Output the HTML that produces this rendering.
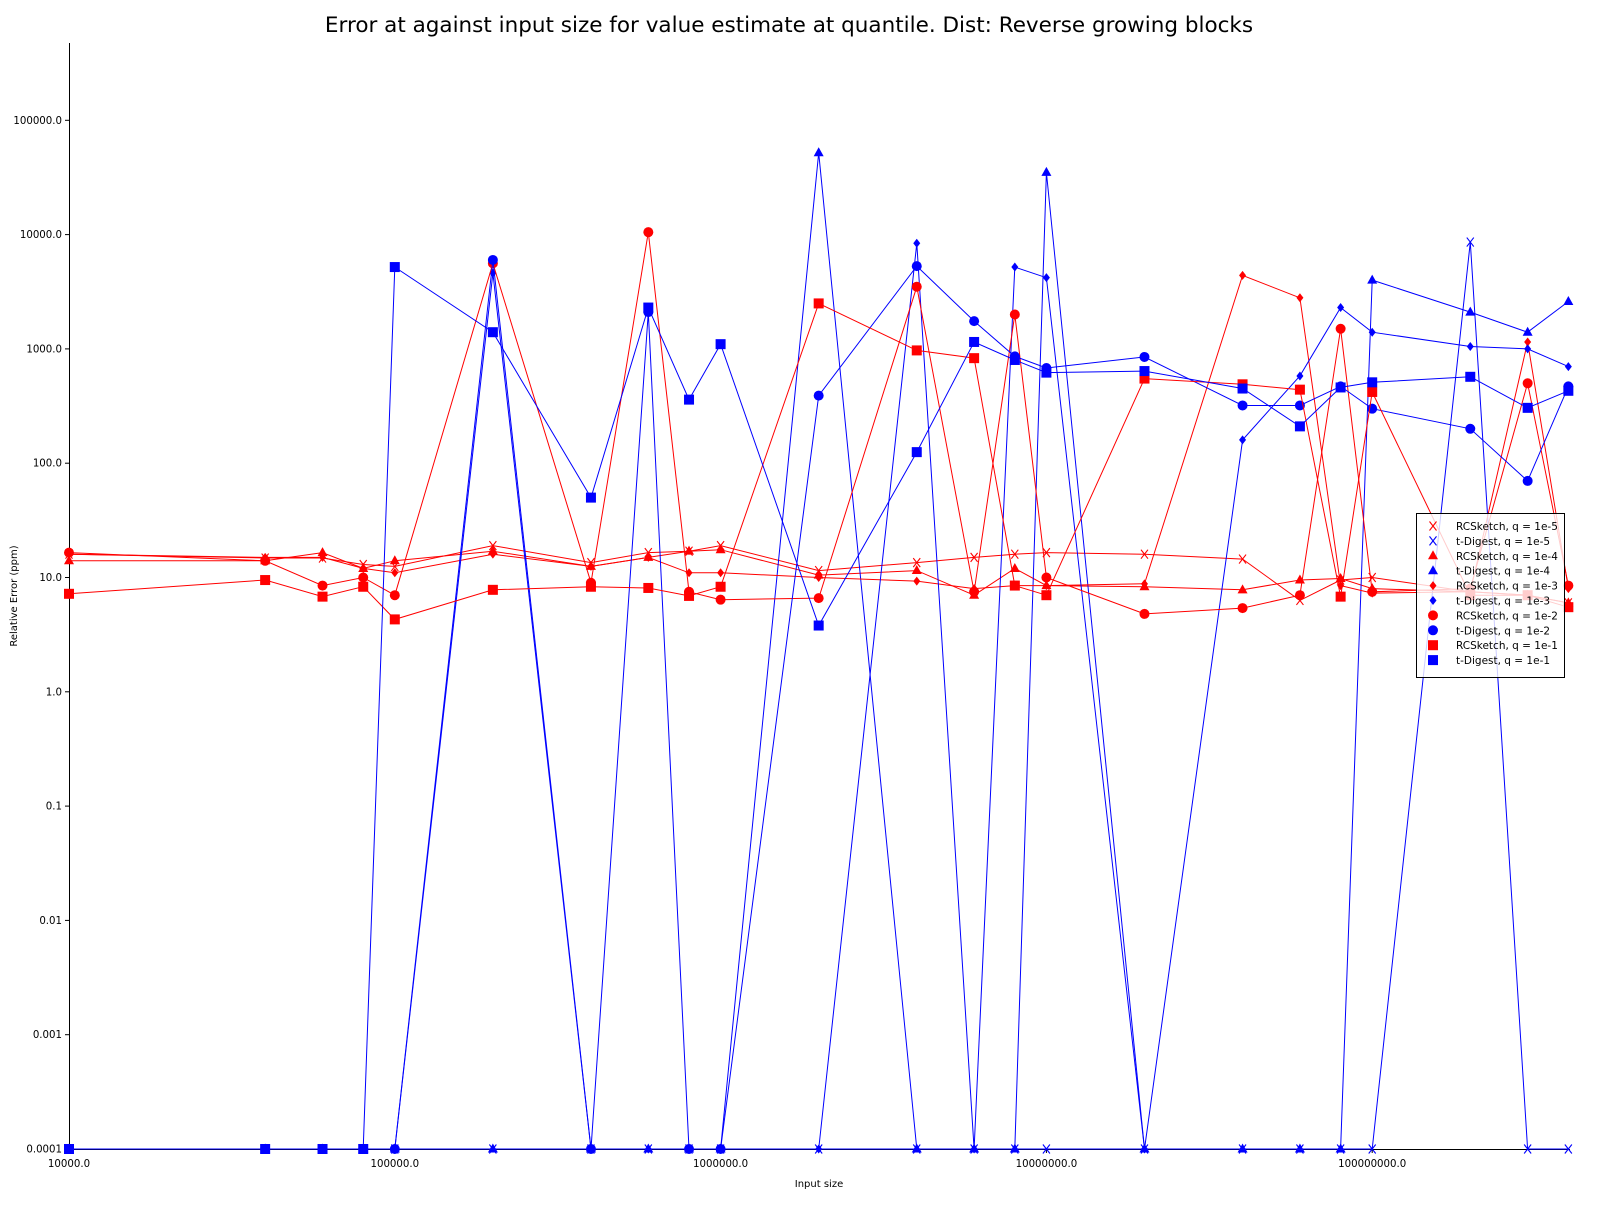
<!DOCTYPE html>
<html><head><meta charset="utf-8"><style>
body{margin:0;background:#fff;font-family:"Liberation Sans","DejaVu Sans",sans-serif}
svg text{font-family:"DejaVu Sans","Liberation Sans",sans-serif}
</style></head><body>
<svg id="chart" width="1600" height="1200" xmlns="http://www.w3.org/2000/svg">
<rect width="1600" height="1200" fill="#fff"/>
<text x="789" y="32" font-size="21.5" text-anchor="middle">Error at against input size for value estimate at quantile. Dist: Reverse growing blocks</text>
<text x="819" y="1187" font-size="10" text-anchor="middle">Input size</text>
<text x="17" y="596" font-size="10" text-anchor="middle" transform="rotate(-90 17 596)">Relative Error (ppm)</text>
<g id="axes"></g>
<g id="series"></g>
<g id="legend"></g>
</svg>
<script>
const xs=[1e4,4e4,6e4,8e4,1e5,2e5,4e5,6e5,8e5,1e6,2e6,4e6,6e6,8e6,1e7,2e7,4e7,6e7,8e7,1e8,2e8,3e8,4e8];
const rc5=[16,14.8,14.8,13,12.5,19,13.5,16.5,17,19,11.5,13.5,15,16,16.5,16,14.5,6.3,9.5,10,7.5,7,6];
const td5=[0,0,0,0,0,0,0,0,0,0,0,0,0,0,0,0,0,0,0,0,8600,0,0];
const rc4=[14,14,16.5,12,14,17,12.5,15,17,17.5,10.5,11.5,7,12,8.5,8.3,7.8,9.5,9.8,8,7.5,7,6];
const td4=[0,0,0,0,0,0,0,0,0,0,52000,0,0,0,35000,0,0,0,0,4000,2100,1400,2600];
const rc3=[16,15,15,12,11,16,12.5,15,11,11,10,9.3,8,8.5,8.5,8.8,4400,2800,8.5,7.3,7.5,1150,8];
const td3=[0,0,0,0,0,4600,0,0,0,0,0,8400,0,5200,4200,0,160,580,2300,1400,1050,1000,700];
const rc2=[16.5,14,8.5,10,7,5600,9,10500,7.5,6.4,6.6,3500,7.5,2000,10,4.8,5.4,7,1500,7.5,8,500,8.5];
const td2=[0,0,0,0,0,6000,0,2100,0,0,390,5300,1750,860,680,850,320,320,470,300,200,70,470];
const rc1=[7.2,9.5,6.8,8.3,4.3,7.8,8.3,8.1,6.9,8.3,2500,970,830,8.5,7,550,490,440,6.8,420,7,7,5.5];
const td1=[0,0,0,0,5200,1400,50,2300,360,1100,3.8,125,1150,800,620,640,450,210,460,510,570,305,430];
const xTicks=[1e4,1e5,1e6,1e7,1e8];
const xTickLabels=["10000.0","100000.0","1000000.0","10000000.0","100000000.0"];
const yTicks=[1e-4,1e-3,1e-2,0.1,1,10,100,1000,1e4,1e5];
const yTickLabels=["0.0001","0.001","0.01","0.1","1.0","10.0","100.0","1000.0","10000.0","100000.0"];
const seriesNames=["RCSketch, q = 1e-5","t-Digest, q = 1e-5","RCSketch, q = 1e-4","t-Digest, q = 1e-4","RCSketch, q = 1e-3","t-Digest, q = 1e-3","RCSketch, q = 1e-2","t-Digest, q = 1e-2","RCSketch, q = 1e-1","t-Digest, q = 1e-1"];

const NS="http://www.w3.org/2000/svg";
function X(v){return 69+(Math.log10(v)-4)*325.8;}
function Y(v){const l=v>1e-4?Math.log10(v):-4;return 1149-(l+4)*114.3;}
function mk(tag,attrs,parent){const e=document.createElementNS(NS,tag);for(const k in attrs)e.setAttribute(k,attrs[k]);parent.appendChild(e);return e;}
const axes=document.getElementById('axes');
let a=mk('line',{x1:69.5,y1:43,x2:69.5,y2:1150,stroke:'#000','stroke-width':1},axes);


a=mk('line',{x1:69,y1:1149.5,x2:1570,y2:1149.5,stroke:'#000','stroke-width':1},axes);


xTicks.forEach((t,i)=>{const x=X(t);
 mk('line',{x1:x,y1:1149,x2:x,y2:1153,stroke:'#000'},axes);
 const tx=mk('text',{x:x,y:1167,'font-size':10.2,'text-anchor':'middle'},axes);tx.textContent=xTickLabels[i];
 
 });
yTicks.forEach((t,i)=>{const y=Y(t);
 mk('line',{x1:65,y1:y,x2:69,y2:y,stroke:'#000'},axes);
 const tx=mk('text',{x:62,y:y+3.5,'font-size':10.2,'text-anchor':'end'},axes);tx.textContent=yTickLabels[i];
 
 });

function marker(g,type,x,y,c){
 if(type==='x'){mk('path',{d:`M${x-3.5} ${y-4.5}L${x+3.5} ${y+4.5}M${x+3.5} ${y-4.5}L${x-3.5} ${y+4.5}`,stroke:c,'stroke-width':1.1,fill:'none'},g);}
 else if(type==='tri'){mk('path',{d:`M${x} ${y-5.5}L${x+5} ${y+3.5}L${x-5} ${y+3.5}Z`,fill:c},g);}
 else if(type==='dia'){mk('path',{d:`M${x} ${y-4.5}L${x+3.5} ${y}L${x} ${y+4.5}L${x-3.5} ${y}Z`,fill:c},g);}
 else if(type==='circ'){mk('circle',{cx:x,cy:y,r:5,fill:c},g);}
 else {mk('rect',{x:x-5,y:y-5,width:10,height:10,fill:c},g);}
}
const data=[rc5,td5,rc4,td4,rc3,td3,rc2,td2,rc1,td1];
const types=['x','x','tri','tri','dia','dia','circ','circ','sq','sq'];
const sg=document.getElementById('series');
data.forEach((vals,i)=>{
 const c=i%2===0?'#ff0000':'#0000ff';
 const g=mk('g',{},sg);
 
 
 const pts=vals.map((v,j)=>X(xs[j]).toFixed(1)+','+Y(v).toFixed(1)).join(' ');
 mk('polyline',{points:pts,fill:'none',stroke:c,'stroke-width':1},g);
 vals.forEach((v,j)=>marker(g,types[i],X(xs[j]),Y(v),c));
});
const lg=document.getElementById('legend');


mk('rect',{x:1416.5,y:513.5,width:148,height:164,fill:'#fff','fill-opacity':0.8,stroke:'#000','stroke-width':1},lg);
seriesNames.forEach((n,i)=>{
 const y=527+i*14.9;const c=i%2===0?'#ff0000':'#0000ff';
 const g=mk('g',{},lg);
 
 
 marker(g,types[i],1433,y-1,c);
 const t=mk('text',{x:1456,y:y+3,'font-size':10.5},g);t.textContent=n;
});
</script>
</body></html>
